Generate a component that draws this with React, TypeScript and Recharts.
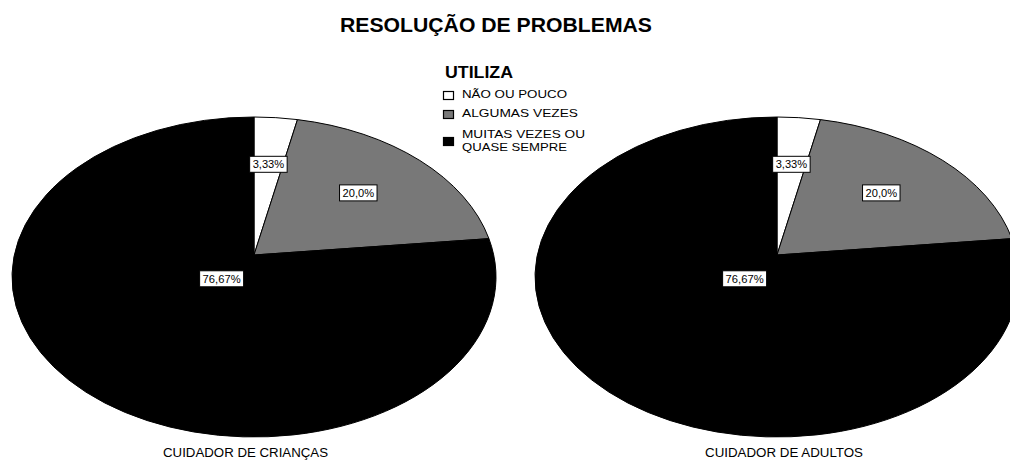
import { PieChart, Pie, Cell } from 'recharts'

const categories = ['NÃO OU POUCO', 'ALGUMAS VEZES', 'MUITAS VEZES OU QUASE SEMPRE']
const legendLines = [['NÃO OU POUCO'], ['ALGUMAS VEZES'], ['MUITAS VEZES OU', 'QUASE SEMPRE']]
const criancas = [3.33, 20.0, 76.67]
const adultos = [3.33, 20.0, 76.67]
const labelsCriancas = ['3,33%', '20,0%', '76,67%']
const labelsAdultos = ['3,33%', '20,0%', '76,67%']
const groups = ['CUIDADOR DE CRIANÇAS', 'CUIDADOR DE ADULTOS']
const colors = ['#ffffff', '#787878', '#000000']

// ellipse radii and offset of the ellipse centre below the pie apex
const RX = 242
const RY = 160
const DY = 22
const labelFrac = [0.57, 0.58, 0.2]
const FONT = '"Liberation Sans", Arial, sans-serif'

const rayPoint = (cx: number, cy: number, angle: number) => {
  const th = ((90 - angle) * Math.PI) / 180
  const dx = Math.sin(th)
  const dy = -Math.cos(th)
  const ax = 0
  const ay = -DY / RY
  const b = ax * dx + ay * dy
  const c = ax * ax + ay * ay - 1
  const t = -b + Math.sqrt(b * b - c)
  const u = ax + t * dx
  const v = ay + t * dy
  return { x: cx + u * RX, y: cy + DY + v * RY, phi: Math.atan2(v, u) }
}

const EllipseSector = (props: any) => {
  const { cx, cy, startAngle, endAngle, fill } = props
  const p1 = rayPoint(cx, cy, startAngle)
  const p2 = rayPoint(cx, cy, endAngle)
  let ext = p2.phi - p1.phi
  while (ext < 0) ext += Math.PI * 2
  const large = ext > Math.PI ? 1 : 0
  const d = `M${cx},${cy} L${p1.x},${p1.y} A${RX},${RY} 0 ${large} 1 ${p2.x},${p2.y} Z`
  return <path d={d} fill={fill} stroke="#000" strokeWidth={1} />
}

const makeLabel = (texts: string[]) => (props: any) => {
  const { cx, cy, midAngle, index } = props
  const th = ((90 - midAngle) * Math.PI) / 180
  const f = labelFrac[index]
  const x = cx + Math.sin(th) * RX * f
  const y = cy - Math.cos(th) * RY * f
  const txt = texts[index]
  const w = txt.length * 6.5 + 5
  return (
    <g>
      <rect x={x - w / 2} y={y - 8} width={w} height={16} fill="#fff" stroke="#000" strokeWidth={1} />
      <text x={x} y={y + 4} textAnchor="middle" fontSize={10.5} fontFamily={FONT} fill="#000"
        textLength={w - 6} lengthAdjust="spacingAndGlyphs">{txt}</text>
    </g>
  )
}

const toData = (values: number[]) => categories.map((name, i) => ({ name, value: values[i] }))

const App = () => {
  const legendRows = [91, 110, 137]
  const legendBase = [[98], [117], [138, 151]]
  const legendLen = [[105], [116], [123, 105]]
  return (
    <div style={{ position: 'absolute', left: 0, top: 0, width: 1010, height: 461, background: '#fff' }}>
      <PieChart width={1010} height={461} margin={{ top: 0, right: 0, bottom: 0, left: 0 }}>
        <text x={340} y={32} fontSize={21} fontWeight="bold" fontFamily={FONT} fill="#000"
          textLength={312} lengthAdjust="spacingAndGlyphs">RESOLUÇÃO DE PROBLEMAS</text>
        <Pie data={toData(criancas)} dataKey="value" nameKey="name" cx={254} cy={255}
          outerRadius={RY} startAngle={90} endAngle={-270} isAnimationActive={false}
          shape={EllipseSector} activeShape={EllipseSector} inactiveShape={EllipseSector}
          label={makeLabel(labelsCriancas)} labelLine={false} stroke="#000">
          {criancas.map((_, i) => <Cell key={i} fill={colors[i]} />)}
        </Pie>
        <Pie data={toData(adultos)} dataKey="value" nameKey="name" cx={777} cy={255}
          outerRadius={RY} startAngle={90} endAngle={-270} isAnimationActive={false}
          shape={EllipseSector} activeShape={EllipseSector} inactiveShape={EllipseSector}
          label={makeLabel(labelsAdultos)} labelLine={false} stroke="#000">
          {adultos.map((_, i) => <Cell key={i} fill={colors[i]} />)}
        </Pie>
        <rect x={440} y={62} width={150} height={94} fill="#fff" stroke="none" />
        <text x={445} y={78} fontSize={16} fontWeight="bold" fontFamily={FONT} fill="#000"
          textLength={68} lengthAdjust="spacingAndGlyphs">UTILIZA</text>
        {legendLines.map((lines, i) => (
          <g key={i}>
            <rect x={443.5} y={legendRows[i] + 0.5} width={10} height={8} fill={colors[i]} stroke="#000" strokeWidth={1.2} />
            {lines.map((ln, j) => (
              <text key={j} x={462} y={legendBase[i][j]} fontSize={11} fontFamily={FONT} fill="#000"
                textLength={legendLen[i][j]} lengthAdjust="spacingAndGlyphs">{ln}</text>
            ))}
          </g>
        ))}
        <text x={163} y={457} fontSize={12} fontFamily={FONT} fill="#000"
          textLength={165} lengthAdjust="spacingAndGlyphs">{groups[0]}</text>
        <text x={705} y={457} fontSize={12} fontFamily={FONT} fill="#000"
          textLength={158} lengthAdjust="spacingAndGlyphs">{groups[1]}</text>
      </PieChart>
    </div>
  )
}

export default App
